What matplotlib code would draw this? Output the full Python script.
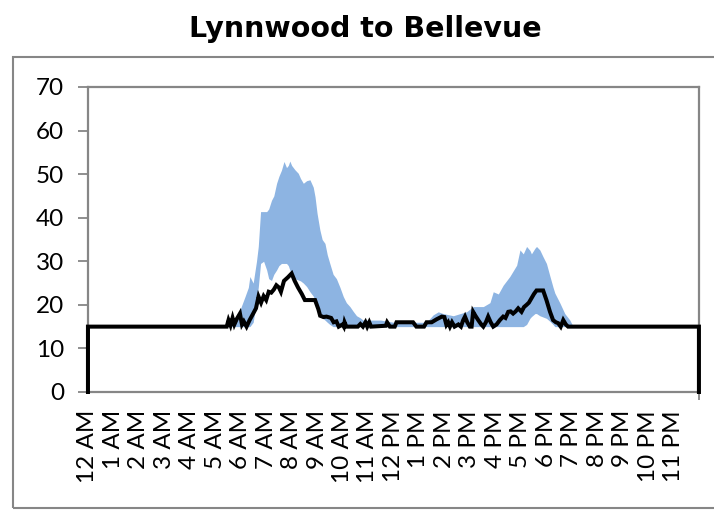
import matplotlib
matplotlib.use("Agg")
import matplotlib.pyplot as plt
from matplotlib.patches import Rectangle

plt.rcParams['font.family'] = ['Lato', 'DejaVu Sans']

# travel time band (lower / upper) in minutes, x in hours after midnight
band_hours = [5.45, 5.7, 5.97, 6.17, 6.3, 6.36, 6.49, 6.62, 6.69, 6.78, 6.9, 7.02, 7.1, 7.21, 7.3,
              7.41, 7.5, 7.6, 7.7, 7.8, 7.87, 7.93, 8.0, 8.13, 8.26, 8.35, 8.46, 8.59, 8.72, 8.85,
              8.92, 9.0, 9.11, 9.2, 9.31, 9.4, 9.5, 9.63, 9.76, 9.9, 10.03, 10.15, 10.29, 10.42,
              10.55, 10.7, 10.81, 11.0, 11.5, 12.0, 13.3, 13.56, 13.76, 13.95, 14.35, 14.74, 14.87,
              15.13, 15.53, 15.79, 15.92, 16.12, 16.31, 16.57, 16.84, 16.97, 17.1, 17.23, 17.36,
              17.42, 17.56, 17.62, 17.75, 17.88, 18.01, 18.15, 18.27, 18.34, 18.54, 18.73, 18.93, 19.06]
band_low = [15, 15, 15, 15, 15, 15, 16, 21, 24, 29.5, 30, 28, 26, 25.6, 27,
            28, 29, 29.5, 29.5, 29.5, 29, 28, 27.2, 26, 25.7, 25.5, 25, 24.2, 23, 22,
            21, 20, 18, 17, 16.5, 16, 15.5, 15, 15, 15, 15, 15, 15, 15,
            15, 15, 15, 15, 15, 15, 15, 15, 15, 15, 15, 15, 15,
            15, 15, 15, 15, 15, 15, 15, 15, 15, 15, 15.5, 16.9,
            17.3, 18, 18, 17.5, 17.2, 16.9, 16.2, 15.5, 15, 15, 15, 15, 15]
band_high = [15, 16.5, 18.8, 21.9, 24, 26.5, 25, 30, 33.4, 41.4, 41.4, 41.4, 42, 44, 45,
             47.9, 49.5, 50.9, 52.9, 51.5, 52, 53, 52, 51, 50.2, 49, 47.9, 48.5, 48.7, 47,
             44.8, 41, 37.2, 35, 34.1, 31.5, 29.5, 27, 26, 24, 21.9, 20.5, 19.6, 18.5,
             17.5, 17, 16.5, 16.5, 16.5, 16, 16, 17.7, 18.4, 18, 17.5, 18.2, 18.4,
             19.6, 19.6, 20.5, 23, 22.5, 24.5, 26.5, 29.1, 32.6, 31.7, 33.4, 32.5,
             31.7, 33, 33.4, 32.6, 31, 29.5, 26.5, 24, 22.7, 20.4, 18, 16.5, 15]

# typical travel time (black line)
line_hours = [0, 0, 5.45, 5.52, 5.6, 5.68, 5.75, 5.85, 5.97, 6.05, 6.12, 6.23, 6.35, 6.49, 6.6,
              6.7, 6.8, 6.9, 7.0, 7.1, 7.2, 7.3, 7.4, 7.5, 7.58, 7.7, 7.85, 8.0, 8.12, 8.25,
              8.4, 8.52, 8.92, 9.05, 9.12, 9.25, 9.37, 9.55, 9.65, 9.76, 9.85, 10.0, 10.05,
              10.08, 10.15, 10.6, 10.7, 10.8, 10.9, 10.97, 11.05, 11.12, 11.7, 11.75, 11.86,
              12.05, 12.12, 12.77, 12.9, 13.2, 13.3, 13.5, 13.7, 13.9, 14.0, 14.08, 14.15,
              14.22, 14.3, 14.4, 14.55, 14.65, 14.74, 14.81, 14.9, 15.0, 15.07, 15.13, 15.22,
              15.33, 15.45, 15.53, 15.63, 15.72, 15.82, 15.92, 16.05, 16.18, 16.31, 16.4,
              16.51, 16.6, 16.7, 16.8, 16.9, 17.03, 17.13, 17.23, 17.32, 17.42, 17.52, 17.62,
              17.88, 18.01, 18.15, 18.27, 18.38, 18.47, 18.57, 18.67, 18.77, 18.86, 24, 24]
line_vals = [0, 15, 15, 16.5, 15.3, 17, 15.5, 16.8, 18, 15.5, 16.2, 15, 16.5, 18, 19.2,
             21.9, 20.5, 22, 21.1, 23, 22.8, 23.5, 24.5, 24, 23, 25.5, 26.3, 27.2, 25.5, 24,
             22.5, 21.1, 21.1, 19, 17.5, 17.2, 17.3, 17, 16, 16.2, 15, 15.5, 15,
             16, 15, 15, 15.6, 15, 16, 15, 16, 15, 15.2, 16, 15,
             15, 16, 16, 15, 15, 16, 16, 16.7, 17.3, 17.2, 15.4, 16,
             15, 16, 15, 15.5, 15, 16.5, 17.3, 16, 15, 15, 18.4, 17.5,
             16.5, 15.5, 15, 16, 17.3, 16, 15, 15.5, 16.5, 17.3, 17,
             18.4, 18.5, 18, 18.5, 19.2, 18.4, 19.5, 20, 20.5, 21.5, 22.5, 23.3,
             23.3, 21.1, 18.4, 16.5, 16, 15.8, 15, 16.5, 15.5, 15, 15, 0]

hour_labels = ['12 AM'] + [f'{h} AM' for h in range(1, 12)] + ['12 PM'] + [f'{h} PM' for h in range(1, 12)]

fig = plt.figure(figsize=(7.14, 5.12), dpi=100)
ax = fig.add_axes([0.1232, 0.2344, 0.8557, 0.5957])

grey = '#868686'
ax.fill_between(band_hours, band_low, band_high, color='#8db4e2', linewidth=0)
ax.plot(line_hours, line_vals, color='black', linewidth=2.9, solid_joinstyle='miter',
        clip_on=False, zorder=5)

ax.set_xlim(0, 24)
ax.set_ylim(0, 70)
ax.set_yticks(range(0, 71, 10))
ax.set_xticks(range(24))
ax.set_xticklabels(hour_labels, rotation=90)
ax.set_xticks(range(25), minor=True)
ax.tick_params(axis='both', which='both', direction='out', color=grey, width=1.3, labelsize=17.5)
ax.tick_params(axis='y', length=7, pad=10)
ax.tick_params(axis='x', which='major', length=0, pad=13)
ax.tick_params(axis='x', which='minor', length=6)
for s in ax.spines.values():
    s.set_color(grey)
    s.set_linewidth(1.6)

fig.text(0.511, 1 - 37 / 512, 'Lynnwood to Bellevue', ha='center', va='baseline',
         fontsize=20.5, fontweight='bold', family='DejaVu Sans')

# outer chart border
fig.patches.append(Rectangle((13 / 714, 1 - 508 / 512), 1.1, (508 - 57) / 512,
                             transform=fig.transFigure, fill=False,
                             edgecolor=grey, linewidth=1.5))

fig.savefig('out.png', dpi=100)
